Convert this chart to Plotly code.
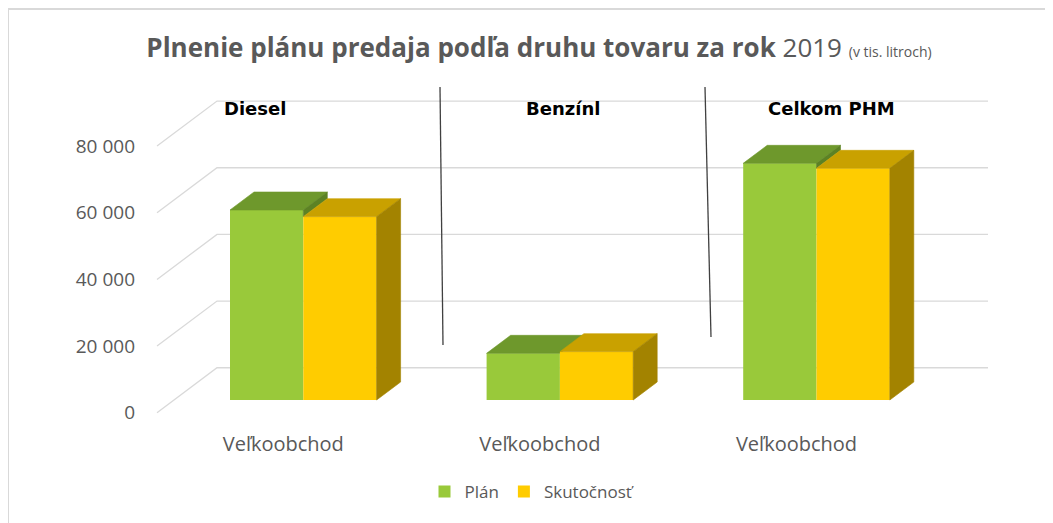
import plotly.graph_objects as go

# ---------------- data ----------------
categories = ["Diesel", "Benzínl", "Celkom PHM"]
x_label = "Veľkoobchod"
series_names = ["Plán", "Skutočnosť"]
plan = [57000, 14000, 71000]
actual = [55000, 14500, 69500]
y_ticks = [0, 20000, 40000, 60000, 80000]

# ---------------- geometry (page pixels) ----------------
PAGE_OFF = 8                             # default body margin of the html page
W, H = 1053 - PAGE_OFF, 523 - PAGE_OFF
PL, PR, PT, PB = 150, 1000, 85, 430      # plot area (page px)
CAT0_PX, CAT_PX = 303.3, 256.6          # first category centre, category spacing
BAR_PX = 73.3                            # bar width
BASE_PX = 400                            # baseline of the bar front plane
VPP = 300                                # value units per pixel
SLOPE = 0.75                             # vertical px per horizontal px of depth
BAR_DEPTH = 24                           # bar depth (horizontal px)
FLOOR_FRONT = 17                         # floor front lies this many px in front of bars
WALL_DEPTH = 60                          # floor front -> back wall (horizontal px)
FLOOR_LEFT_PX, WALL_RIGHT_PX = 157, 988
LABEL_SHIFT_PX = 20

def xu(px):
    return (px - CAT0_PX) / CAT_PX

FLOOR_OFF = FLOOR_FRONT * SLOPE * VPP
y2_range = [(BASE_PX - PB) * VPP, (BASE_PX - PT) * VPP]
y1_range = [v + FLOOR_OFF for v in y2_range]

def y1(px):
    return (BASE_PX + FLOOR_FRONT * SLOPE - px) * VPP

def xp(px): return (px - PL) / (PR - PL)
def yp(px): return (PB - px) / (PB - PT)

GREEN, GREEN_TOP, GREEN_SIDE = "#99C93A", "#6E982C", "#5C8224"
YELLOW, YELLOW_TOP, YELLOW_SIDE = "#FFCC00", "#C9A100", "#A38300"
GRID = "#D9D9D9"
TXT = "#595959"
FONT = "'Open Sans', sans-serif"
HFONT = "'DejaVu Sans', sans-serif"

fig = go.Figure()

# ---------------- gridlines (floor + back wall) ----------------
wall_dy = WALL_DEPTH * SLOPE * VPP
gx, gy = [], []
for t in y_ticks:
    gx += [xu(FLOOR_LEFT_PX), xu(FLOOR_LEFT_PX + WALL_DEPTH), xu(WALL_RIGHT_PX), None]
    gy += [t, t + wall_dy, t + wall_dy, None]
fig.add_trace(go.Scatter(x=gx, y=gy, mode="lines", line=dict(color=GRID, width=1.3),
                         showlegend=False, hoverinfo="skip", xaxis="x", yaxis="y"))

# ---------------- bars ----------------
pos = list(range(len(categories)))
w = BAR_PX / CAT_PX
ddx = BAR_DEPTH / CAT_PX
ddy = BAR_DEPTH * SLOPE * VPP

def poly(xs, ys, color, yaxis):
    fig.add_trace(go.Scatter(x=xs, y=ys, mode="lines", fill="toself", fillcolor=color,
                             line=dict(color=color, width=0.6), showlegend=False,
                             hoverinfo="skip", xaxis="x", yaxis=yaxis))

series = [
    (series_names[0], plan, -w, GREEN, GREEN_TOP, GREEN_SIDE, "y2"),
    (series_names[1], actual, 0.0, YELLOW, YELLOW_TOP, YELLOW_SIDE, "y3"),
]
for si, (name, vals, off, c_front, c_top, c_side, ya) in enumerate(series):
    fig.add_trace(go.Bar(x=pos, y=vals, offset=off, width=w, name=name,
                         marker=dict(color=c_front, line=dict(width=0)),
                         xaxis="x", yaxis=ya))
    for i, v in enumerate(vals):
        x0 = pos[i] + off
        x1 = x0 + w
        poly([x0, x1, x1 + ddx, x0 + ddx, x0], [v, v, v + ddy, v + ddy, v], c_top, ya)
        if si == len(series) - 1:
            lo = 0
        else:
            nxt = series[si + 1][1][i]
            if nxt >= v:
                continue
            lo = nxt
        poly([x1, x1 + ddx, x1 + ddx, x1, x1], [lo, lo + ddy, v + ddy, v, lo], c_side, ya)

# ---------------- decorations ----------------
shapes = []
for (ax, ay, bx, by) in [(440, 87, 443, 345), (705, 87, 711, 337)]:
    shapes.append(dict(type="line", xref="x", yref="y", x0=xu(ax), y0=y1(ay),
                       x1=xu(bx), y1=y1(by), line=dict(color="#404040", width=1.3)))
# chart border (top & left)
shapes.append(dict(type="line", xref="paper", yref="paper", x0=xp(8), y0=yp(9),
                   x1=xp(1060), y1=yp(9), line=dict(color="#D9D9D9", width=2)))
shapes.append(dict(type="line", xref="paper", yref="paper", x0=xp(8), y0=yp(9),
                   x1=xp(8), y1=yp(530), line=dict(color="#D9D9D9", width=2)))

HEADER_PX = [(255, 108), (563, 108), (831.5, 108)]
annotations = []
for cat, (hx, hy) in zip(categories, HEADER_PX):
    annotations.append(dict(text=f"<b>{cat}</b>", xref="paper", yref="paper",
                            x=xp(hx), y=yp(hy), xanchor="center", yanchor="middle",
                            showarrow=False, font=dict(size=18, color="#000000", family=HFONT)))

fig.update_layout(
    width=W, height=H,
    margin=dict(l=PL - PAGE_OFF, r=W - (PR - PAGE_OFF), t=PT - PAGE_OFF, b=H - (PB - PAGE_OFF)),
    paper_bgcolor="white", plot_bgcolor="white",
    separators=", ",
    title=dict(text="<b>Plnenie plánu predaja podľa druhu tovaru za rok</b> 2019 "
                    "<span style='font-size:14px'>(v tis. litroch)</span>",
               x=(539 - PAGE_OFF) / W, xref="container", xanchor="center",
               y=1 - (48 - PAGE_OFF) / H, yref="container", yanchor="middle",
               font=dict(size=26, color=TXT, family=FONT)),
    xaxis=dict(range=[xu(PL), xu(PR)], tickvals=[p - LABEL_SHIFT_PX / CAT_PX for p in pos],
               ticktext=[x_label] * len(pos), showgrid=False, zeroline=False, showline=False,
               ticks="", tickfont=dict(size=20, color=TXT, family=FONT)),
    yaxis=dict(range=y1_range, tickvals=y_ticks, tickformat=",d", showgrid=False,
               zeroline=False, showline=False, ticks="", ticklabelstandoff=14,
               tickfont=dict(size=19, color=TXT, family=FONT)),
    yaxis2=dict(range=y2_range, overlaying="y", visible=False),
    yaxis3=dict(range=y2_range, overlaying="y", visible=False),
    showlegend=True,
    legend=dict(orientation="h", x=xp(532), xanchor="center", y=yp(492), yanchor="middle",
                font=dict(size=17, color=TXT, family=FONT), traceorder="normal"),
    shapes=shapes, annotations=annotations,
    barmode="overlay",
)

fig.write_html("out.html")
